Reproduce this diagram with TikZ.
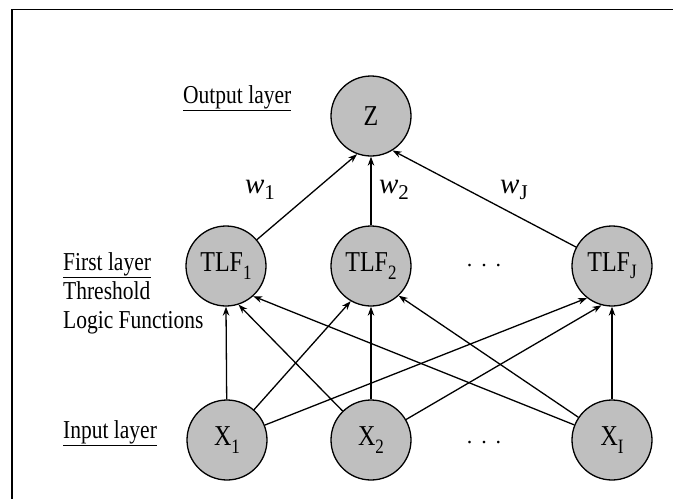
\documentclass[tikz,border=0pt]{standalone}
\usepackage{fontspec}
\setmainfont{Liberation Serif}
\usetikzlibrary{arrows.meta}
\newcommand{\lowsub}[1]{\raisebox{-0.55ex}{\fontsize{17}{17}\selectfont #1}}
\newcommand{\wsub}[1]{\raisebox{-0.45ex}{\fontsize{21}{21}\selectfont #1}}
\newcommand{\tall}[1]{\scalebox{1}[1.2]{#1}}
\begin{document}
\begin{tikzpicture}[x=1pt,y=-1pt,
  neuron/.style={circle, draw=black, line width=1.3pt, fill=black!25, minimum size=80pt, inner sep=0pt, font=\fontsize{24}{24}\selectfont},
  lbl/.style={anchor=base west, inner sep=0pt, font=\fontsize{21.5}{21.5}\selectfont},
  wlbl/.style={inner sep=0pt, font=\fontsize{29}{29}\selectfont},
  dotlbl/.style={anchor=base, inner sep=0pt, font=\fontsize{22}{22}\selectfont},
  conn/.style={-{Stealth[length=9pt,width=6.5pt]}, line width=1.3pt},
  frameline/.style={line width=1.5pt}]
\useasboundingbox (0,0) rectangle (673,499);
\fill[white] (0,0) rectangle (673,499);
% frame
\coordinate (ftr) at (673,9.5);
\coordinate (ftl) at (12,9.5);
\coordinate (fbl) at (12,499);
\draw[frameline] (ftr) -- (ftl) -- (fbl);
% nodes
\node[neuron] (z) at (371,116) {\tall{Z}};
\node[neuron] (t1) at (226,266) {\tall{TLF\lowsub{1}}};
\node[neuron] (t2) at (371,266) {\tall{TLF\lowsub{2}}};
\node[neuron] (tj) at (612,266) {\tall{TLF\lowsub{J}}};
\node[neuron] (x1) at (227,440) {\tall{X\lowsub{1}}};
\node[neuron] (x2) at (371,440) {\tall{X\lowsub{2}}};
\node[neuron] (xi) at (612,440) {\tall{X\lowsub{I}}};
\node[dotlbl] (d1) at (484,266) {.\hspace{9pt}.\hspace{9pt}.};
\node[dotlbl] (d2) at (484,443) {.\hspace{9pt}.\hspace{9pt}.};
% labels
\node[lbl] (lout) at (183,103) {\tall{\underline{Output layer}}};
\node[lbl] (lfirst) at (63,270) {\tall{\underline{First layer}}};
\node[lbl] (lthr) at (63,299) {\tall{Threshold}};
\node[lbl] (llog) at (63,328) {\tall{Logic Functions}};
\node[lbl] (linp) at (63,438) {\tall{\underline{Input layer}}};
\node[wlbl] (w1) at (260,190) {\textit{w}\wsub{1}};
\node[wlbl] (w2) at (394,190) {\textit{w}\wsub{2}};
\node[wlbl] (wj) at (514,190) {\textit{w}\wsub{J}};
% connectors
\draw[conn] (t1) -- (z.250);
\draw[conn] (t2) -- (z.south);
\draw[conn] (tj) -- (z.302);
\draw[conn] (x1) -- (t1.south);
\draw[conn] (x2) -- (t1.288);
\draw[conn] (xi) -- (t1.312);
\draw[conn] (x1) -- (t2.240);
\draw[conn] (x2) -- (t2.south);
\draw[conn] (xi) -- (t2.313);
\draw[conn] (x1) -- (tj.232);
\draw[conn] (x2) -- (tj.255);
\draw[conn] (xi) -- (tj.south);
\end{tikzpicture}
\end{document}
